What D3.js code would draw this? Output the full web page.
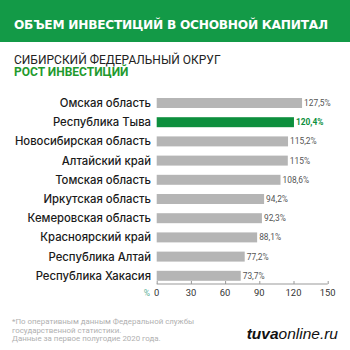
<!DOCTYPE html>
<html>
<head>
<meta charset="utf-8">
<script src="https://cdn.jsdelivr.net/npm/d3@7"></script>
<style>
  html, body { margin: 0; padding: 0; background: #fff; }
  svg { display: block; }
</style>
</head>
<body>
<script>
// Регионы Сибирского федерального округа и рост инвестиций, %
const regions = [
  "Омская область",
  "Республика Тыва",
  "Новосибирская область",
  "Алтайский край",
  "Томская область",
  "Иркутская область",
  "Кемеровская область",
  "Красноярский край",
  "Республика Алтай",
  "Республика Хакасия"
];
const growth = [127.5, 120.4, 115.2, 115, 108.6, 94.2, 92.3, 88.1, 77.2, 73.7];
const valueLabels = ["127,5%", "120,4%", "115,2%", "115%", "108,6%", "94,2%", "92,3%", "88,1%", "77,2%", "73,7%"];
const tickValues = [0, 30, 60, 90, 120, 150];
const highlight = "Республика Тыва";

const W = 350, H = 350;
const green = "#139a47";
const barGreen = "#0d8f3d";
const grey = "#b5b5b5";
const font = "Roboto, 'Noto Sans', sans-serif";
const labelFont = "Inter, Roboto, sans-serif";

const svg = d3.select("body").append("svg")
  .attr("width", W).attr("height", H);

// Шапка
svg.append("rect").attr("x", 0).attr("y", 0).attr("width", W).attr("height", 42)
  .attr("fill", green);
svg.append("text").attr("x", 14).attr("y", 29)
  .attr("font-family", "'DejaVu Sans', sans-serif").attr("font-weight", 700).attr("font-size", 12.2)
  .attr("textLength", 314).attr("lengthAdjust", "spacing")
  .attr("fill", "#fff")
  .text("ОБЪЕМ ИНВЕСТИЦИЙ В ОСНОВНОЙ КАПИТАЛ");

svg.append("text").attr("x", 14).attr("y", 63.5)
  .attr("font-family", font).attr("font-weight", 400).attr("font-size", 12)
  .attr("fill", "#222")
  .text("СИБИРСКИЙ ФЕДЕРАЛЬНЫЙ ОКРУГ");
svg.append("text").attr("x", 14).attr("y", 76.3)
  .attr("font-family", font).attr("font-weight", 700).attr("font-size", 12)
  .attr("fill", "#1f9a2e")
  .text("РОСТ ИНВЕСТИЦИЙ");

// Шкалы
const x = d3.scaleLinear().domain([0, 150]).range([156.7, 327.7]);
const y = d3.scaleBand().domain(regions).range([93.4, 285.4]).paddingInner(0.48).paddingOuter(0.24);

const rows = regions.map((r, i) => ({ region: r, value: growth[i], label: valueLabels[i] }));

// Столбцы
svg.append("g").selectAll("rect").data(rows).join("rect")
  .attr("x", x(0))
  .attr("y", d => y(d.region))
  .attr("width", d => x(d.value) - x(0))
  .attr("height", y.bandwidth())
  .attr("fill", d => d.region === highlight ? barGreen : grey);

// Названия регионов
svg.append("g").selectAll("text").data(rows).join("text")
  .attr("x", 151)
  .attr("y", d => y(d.region) + y.bandwidth() / 2)
  .attr("dy", "0.36em")
  .attr("text-anchor", "end")
  .attr("font-family", labelFont).attr("font-weight", 500).attr("font-size", 11.3)
  .attr("fill", "#1a1a1a")
  .text(d => d.region);

// Подписи значений
svg.append("g").selectAll("text").data(rows).join("text")
  .attr("x", d => x(d.value) + 2)
  .attr("y", d => y(d.region) + y.bandwidth() / 2)
  .attr("dy", "0.36em")
  .attr("font-family", font)
  .attr("font-weight", d => d.region === highlight ? 700 : 400)
  .attr("font-size", 8.4)
  .attr("fill", d => d.region === highlight ? barGreen : "#555")
  .text(d => d.label);

// Ось X
const axisY = 284;
const axis = d3.axisTop(x).tickValues(tickValues).tickSize(3).tickFormat("");
const gAxis = svg.append("g").attr("transform", `translate(0,${axisY})`).call(axis);
gAxis.select(".domain").attr("stroke", "#999").attr("d", `M${x(0)},0H${x(150)}`);
gAxis.selectAll(".tick line").attr("stroke", "#999");

svg.append("g").selectAll("text").data(tickValues).join("text")
  .attr("x", d => x(d))
  .attr("y", 295.5)
  .attr("text-anchor", "middle")
  .attr("font-family", font).attr("font-size", 9.4)
  .attr("fill", "#333")
  .text(d => d);
svg.append("text").attr("x", 147).attr("y", 295.5)
  .attr("text-anchor", "middle")
  .attr("font-family", font).attr("font-size", 8.6)
  .attr("fill", "#5fb39a")
  .text("%");

// Примечание
const notes = [
  "*По оперативным данным Федеральной службы",
  "государственной статистики.",
  "Данные за первое полугодие 2020 года."
];
svg.append("g").selectAll("text").data(notes).join("text")
  .attr("x", 12)
  .attr("y", (d, i) => 324 + i * 8.7)
  .attr("font-family", font).attr("font-size", 7.9)
  .attr("fill", "#b0b0b0")
  .text(d => d);

// Логотип
const logo = svg.append("text").attr("x", 338).attr("y", 339)
  .attr("text-anchor", "end")
  .attr("font-family", "'Liberation Sans', Arial, sans-serif")
  .attr("font-style", "italic").attr("font-size", 15.5).attr("fill", "#111");
logo.append("tspan").attr("font-weight", 700).text("tuva");
logo.append("tspan").attr("font-weight", 400).text("online.ru");
</script>
</body>
</html>
